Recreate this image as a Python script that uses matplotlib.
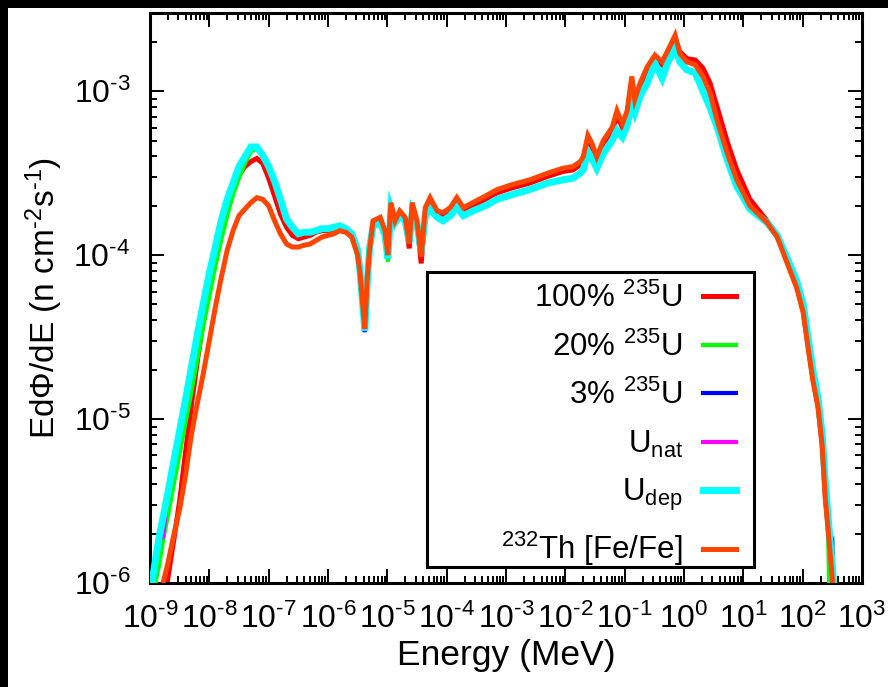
import matplotlib
matplotlib.use("Agg")
import matplotlib.pyplot as plt
from matplotlib.patches import Rectangle
from matplotlib.ticker import LogLocator, NullFormatter, FuncFormatter
import math

# ── Data ─────────────────────────────────────────────────────────────────────

energy_mev = [
    1.00e-9, 1.12e-9, 1.26e-9, 1.41e-9, 1.66e-9, 2.00e-9, 2.51e-9, 3.16e-9,
    3.98e-9, 5.01e-9, 6.31e-9, 7.94e-9, 1.00e-8, 1.26e-8, 1.58e-8, 2.00e-8,
    2.51e-8, 3.16e-8, 3.98e-8, 5.01e-8, 6.31e-8, 7.94e-8, 1.00e-7, 1.26e-7,
    1.58e-7, 2.00e-7, 2.51e-7, 3.16e-7, 3.98e-7, 5.01e-7, 6.31e-7, 7.94e-7,
    1.00e-6, 1.26e-6, 1.58e-6, 2.00e-6, 2.51e-6, 3.16e-6, 3.47e-6, 3.80e-6,
    4.17e-6, 4.57e-6, 5.01e-6, 5.75e-6, 7.59e-6, 9.12e-6, 1.02e-5, 1.15e-5,
    1.35e-5, 1.62e-5, 2.00e-5, 2.34e-5, 2.63e-5, 3.16e-5, 3.72e-5, 4.37e-5,
    5.25e-5, 6.92e-5, 8.71e-5, 1.15e-4, 1.48e-4, 1.91e-4, 2.75e-4, 4.47e-4,
    7.08e-4, 1.26e-3, 2.51e-3, 5.01e-3, 9.12e-3, 1.35e-2, 1.78e-2, 2.00e-2,
    2.40e-2, 2.82e-2, 3.39e-2, 4.37e-2, 6.17e-2, 7.41e-2, 9.12e-2, 0.110,
    0.132, 0.148, 0.182, 0.240, 0.324, 0.427, 0.537, 0.708,
    0.851, 1.12, 1.55, 2.09, 2.75, 3.63, 5.37, 7.76,
    12.9, 25.1, 37.2, 55.0, 79.4, 102, 123, 148,
    182, 214, 240, 269, 295, 316, 339, 363,
]

flux_u100 = [
    6.31e-8, 1.26e-7, 2.24e-7, 3.80e-7, 7.08e-7, 1.07e-6, 1.82e-6, 3.16e-6,
    6.31e-6, 1.23e-5, 2.29e-5, 3.98e-5, 6.46e-5, 1.00e-4, 1.41e-4, 1.91e-4,
    2.51e-4, 3.09e-4, 3.47e-4, 3.72e-4, 3.89e-4, 3.63e-4, 2.95e-4, 2.29e-4,
    1.78e-4, 1.48e-4, 1.32e-4, 1.26e-4, 1.29e-4, 1.32e-4, 1.38e-4, 1.41e-4,
    1.41e-4, 1.45e-4, 1.48e-4, 1.41e-4, 1.32e-4, 1.02e-4, 7.76e-5, 5.25e-5,
    3.55e-5, 6.92e-5, 1.07e-4, 1.58e-4, 1.66e-4, 1.38e-4, 9.77e-5, 2.00e-4,
    1.58e-4, 1.82e-4, 1.66e-4, 1.10e-4, 2.00e-4, 1.58e-4, 8.91e-5, 1.86e-4,
    2.09e-4, 1.78e-4, 1.74e-4, 1.86e-4, 2.09e-4, 1.86e-4, 2.00e-4, 2.19e-4,
    2.40e-4, 2.57e-4, 2.75e-4, 3.02e-4, 3.24e-4, 3.31e-4, 3.55e-4, 3.80e-4,
    5.01e-4, 4.57e-4, 3.80e-4, 4.79e-4, 5.75e-4, 7.08e-4, 6.03e-4, 7.24e-4,
    1.15e-3, 8.51e-4, 1.07e-3, 1.35e-3, 1.58e-3, 1.45e-3, 1.70e-3, 2.09e-3,
    1.74e-3, 1.58e-3, 1.55e-3, 1.38e-3, 1.12e-3, 7.94e-4, 4.90e-4, 3.31e-4,
    2.19e-4, 1.62e-4, 1.32e-4, 9.12e-5, 6.46e-5, 4.57e-5, 2.82e-5, 1.78e-5,
    1.20e-5, 6.92e-6, 3.47e-6, 2.19e-6, 1.45e-6, 1.07e-6, 5.01e-7, 2.51e-7,
]

flux_u20 = [
    2.51e-7, 6.31e-7, 1.05e-6, 1.26e-6, 1.82e-6, 2.57e-6, 3.98e-6, 6.17e-6,
    9.55e-6, 1.48e-5, 2.34e-5, 3.72e-5, 5.62e-5, 8.51e-5, 1.23e-4, 1.74e-4,
    2.34e-4, 2.95e-4, 3.63e-4, 4.27e-4, 4.47e-4, 4.07e-4, 3.47e-4, 2.82e-4,
    2.19e-4, 1.66e-4, 1.48e-4, 1.35e-4, 1.38e-4, 1.38e-4, 1.41e-4, 1.45e-4,
    1.45e-4, 1.48e-4, 1.51e-4, 1.45e-4, 1.35e-4, 1.07e-4, 7.94e-5, 5.25e-5,
    3.47e-5, 6.61e-5, 1.10e-4, 1.51e-4, 1.58e-4, 1.32e-4, 9.12e-5, 1.91e-4,
    1.58e-4, 1.74e-4, 1.62e-4, 1.20e-4, 1.82e-4, 1.55e-4, 1.05e-4, 1.74e-4,
    1.91e-4, 1.70e-4, 1.62e-4, 1.74e-4, 1.95e-4, 1.74e-4, 1.86e-4, 2.00e-4,
    2.19e-4, 2.34e-4, 2.51e-4, 2.75e-4, 2.88e-4, 2.95e-4, 3.16e-4, 3.31e-4,
    4.27e-4, 3.89e-4, 3.39e-4, 4.17e-4, 5.01e-4, 5.75e-4, 5.25e-4, 6.17e-4,
    8.32e-4, 7.41e-4, 9.33e-4, 1.12e-3, 1.48e-3, 1.20e-3, 1.51e-3, 1.82e-3,
    1.51e-3, 1.35e-3, 1.29e-3, 1.00e-3, 7.94e-4, 6.03e-4, 3.80e-4, 2.63e-4,
    1.91e-4, 1.58e-4, 1.32e-4, 9.55e-5, 6.92e-5, 5.01e-5, 3.16e-5, 2.00e-5,
    1.32e-5, 7.94e-6, 3.55e-6, 2.00e-6, 3.16e-7, 1.00e-7, 1.00e-7, 1.00e-7,
]

flux_u3 = [
    5.01e-7, 1.10e-6, 1.45e-6, 1.86e-6, 2.51e-6, 3.55e-6, 5.50e-6, 8.51e-6,
    1.32e-5, 2.09e-5, 3.31e-5, 5.13e-5, 7.76e-5, 1.12e-4, 1.62e-4, 2.19e-4,
    2.75e-4, 3.47e-4, 3.98e-4, 4.57e-4, 4.57e-4, 4.07e-4, 3.47e-4, 2.82e-4,
    2.19e-4, 1.66e-4, 1.48e-4, 1.35e-4, 1.38e-4, 1.38e-4, 1.41e-4, 1.45e-4,
    1.45e-4, 1.48e-4, 1.51e-4, 1.45e-4, 1.35e-4, 1.07e-4, 7.94e-5, 5.25e-5,
    3.39e-5, 6.61e-5, 1.10e-4, 1.51e-4, 1.58e-4, 1.32e-4, 9.55e-5, 1.91e-4,
    1.58e-4, 1.74e-4, 1.62e-4, 1.20e-4, 1.82e-4, 1.55e-4, 1.05e-4, 1.74e-4,
    1.91e-4, 1.70e-4, 1.62e-4, 1.74e-4, 1.95e-4, 1.74e-4, 1.86e-4, 2.00e-4,
    2.19e-4, 2.34e-4, 2.51e-4, 2.75e-4, 2.88e-4, 2.95e-4, 3.16e-4, 3.31e-4,
    4.27e-4, 3.89e-4, 3.39e-4, 4.17e-4, 5.01e-4, 5.75e-4, 5.25e-4, 6.17e-4,
    8.32e-4, 7.41e-4, 9.33e-4, 1.12e-3, 1.48e-3, 1.20e-3, 1.51e-3, 1.82e-3,
    1.51e-3, 1.35e-3, 1.29e-3, 1.00e-3, 7.94e-4, 6.03e-4, 3.80e-4, 2.63e-4,
    1.91e-4, 1.58e-4, 1.32e-4, 9.55e-5, 6.92e-5, 5.01e-5, 3.16e-5, 2.00e-5,
    1.32e-5, 7.94e-6, 4.17e-6, 2.51e-6, 1.66e-6, 1.74e-6, 5.01e-7, 3.16e-7,
]

flux_unat = [
    5.01e-7, 1.10e-6, 1.45e-6, 1.86e-6, 1.91e-6, 3.55e-6, 5.50e-6, 8.51e-6,
    1.32e-5, 2.09e-5, 3.31e-5, 5.13e-5, 7.76e-5, 1.12e-4, 1.62e-4, 2.19e-4,
    2.75e-4, 3.47e-4, 3.98e-4, 4.57e-4, 4.57e-4, 4.07e-4, 3.47e-4, 2.82e-4,
    2.19e-4, 1.66e-4, 1.48e-4, 1.35e-4, 1.38e-4, 1.38e-4, 1.41e-4, 1.45e-4,
    1.45e-4, 1.48e-4, 1.51e-4, 1.45e-4, 1.35e-4, 1.07e-4, 7.94e-5, 5.25e-5,
    3.47e-5, 6.61e-5, 1.10e-4, 1.51e-4, 1.58e-4, 1.32e-4, 9.55e-5, 1.91e-4,
    1.58e-4, 1.74e-4, 1.62e-4, 1.20e-4, 1.82e-4, 1.55e-4, 1.05e-4, 1.74e-4,
    1.91e-4, 1.70e-4, 1.62e-4, 1.74e-4, 1.95e-4, 1.74e-4, 1.86e-4, 2.00e-4,
    2.19e-4, 2.34e-4, 2.51e-4, 2.75e-4, 2.88e-4, 2.95e-4, 3.16e-4, 3.31e-4,
    4.27e-4, 3.89e-4, 3.39e-4, 4.17e-4, 5.01e-4, 5.75e-4, 5.25e-4, 6.17e-4,
    8.32e-4, 7.41e-4, 9.33e-4, 1.12e-3, 1.48e-3, 1.20e-3, 1.51e-3, 1.82e-3,
    1.51e-3, 1.35e-3, 1.29e-3, 1.00e-3, 7.94e-4, 6.03e-4, 3.80e-4, 2.63e-4,
    1.91e-4, 1.58e-4, 1.32e-4, 9.55e-5, 6.92e-5, 5.01e-5, 3.16e-5, 2.00e-5,
    1.32e-5, 7.94e-6, 4.17e-6, 2.51e-6, 1.66e-6, 1.26e-6, 8.91e-7, 3.16e-7,
]

flux_udep = [
    5.01e-7, 1.10e-6, 1.45e-6, 1.86e-6, 2.51e-6, 3.55e-6, 5.50e-6, 8.51e-6,
    1.32e-5, 2.09e-5, 3.31e-5, 5.13e-5, 7.76e-5, 1.12e-4, 1.62e-4, 2.19e-4,
    2.75e-4, 3.47e-4, 3.98e-4, 4.57e-4, 4.57e-4, 4.07e-4, 3.47e-4, 2.82e-4,
    2.19e-4, 1.66e-4, 1.48e-4, 1.35e-4, 1.38e-4, 1.38e-4, 1.41e-4, 1.45e-4,
    1.45e-4, 1.48e-4, 1.51e-4, 1.45e-4, 1.35e-4, 1.07e-4, 7.94e-5, 5.25e-5,
    3.47e-5, 6.61e-5, 1.10e-4, 1.51e-4, 1.58e-4, 1.32e-4, 9.55e-5, 1.91e-4,
    1.58e-4, 1.74e-4, 1.62e-4, 1.20e-4, 1.82e-4, 1.55e-4, 1.05e-4, 1.74e-4,
    1.91e-4, 1.70e-4, 1.62e-4, 1.74e-4, 1.95e-4, 1.74e-4, 1.86e-4, 2.00e-4,
    2.19e-4, 2.34e-4, 2.51e-4, 2.75e-4, 2.88e-4, 2.95e-4, 3.16e-4, 3.31e-4,
    4.27e-4, 3.89e-4, 3.39e-4, 4.17e-4, 5.01e-4, 5.75e-4, 5.25e-4, 6.17e-4,
    8.32e-4, 7.41e-4, 9.33e-4, 1.12e-3, 1.48e-3, 1.20e-3, 1.51e-3, 1.82e-3,
    1.51e-3, 1.35e-3, 1.29e-3, 1.00e-3, 7.94e-4, 6.03e-4, 3.80e-4, 2.63e-4,
    1.91e-4, 1.58e-4, 1.32e-4, 9.55e-5, 6.92e-5, 5.01e-5, 3.16e-5, 2.00e-5,
    1.32e-5, 7.94e-6, 4.17e-6, 2.51e-6, 1.66e-6, 1.26e-6, 8.91e-7, 3.16e-7,
]

flux_th232 = [
    1.00e-7, 1.70e-7, 2.82e-7, 4.79e-7, 1.00e-6, 1.32e-6, 1.95e-6, 2.82e-6,
    4.57e-6, 8.13e-6, 1.26e-5, 1.91e-5, 3.02e-5, 4.79e-5, 7.24e-5, 1.07e-4,
    1.41e-4, 1.74e-4, 1.91e-4, 2.09e-4, 2.24e-4, 2.19e-4, 2.00e-4, 1.62e-4,
    1.35e-4, 1.17e-4, 1.12e-4, 1.12e-4, 1.15e-4, 1.17e-4, 1.23e-4, 1.29e-4,
    1.32e-4, 1.35e-4, 1.41e-4, 1.38e-4, 1.29e-4, 1.00e-4, 7.76e-5, 5.25e-5,
    3.55e-5, 7.08e-5, 1.07e-4, 1.62e-4, 1.70e-4, 1.41e-4, 1.00e-4, 2.09e-4,
    1.62e-4, 1.86e-4, 1.70e-4, 1.17e-4, 2.09e-4, 1.62e-4, 9.77e-5, 1.95e-4,
    2.24e-4, 1.86e-4, 1.82e-4, 1.95e-4, 2.24e-4, 1.95e-4, 2.09e-4, 2.29e-4,
    2.51e-4, 2.69e-4, 2.88e-4, 3.16e-4, 3.39e-4, 3.47e-4, 3.72e-4, 3.98e-4,
    5.37e-4, 4.79e-4, 3.98e-4, 5.01e-4, 6.03e-4, 7.59e-4, 6.31e-4, 7.59e-4,
    1.23e-3, 8.91e-4, 1.12e-3, 1.41e-3, 1.66e-3, 1.51e-3, 1.78e-3, 2.19e-3,
    1.70e-3, 1.51e-3, 1.45e-3, 1.23e-3, 9.77e-4, 6.61e-4, 4.17e-4, 2.88e-4,
    2.00e-4, 1.58e-4, 1.29e-4, 8.91e-5, 6.31e-5, 4.47e-5, 2.75e-5, 1.74e-5,
    1.17e-5, 6.76e-6, 3.31e-6, 2.09e-6, 1.41e-6, 1.05e-6, 5.01e-7, 2.51e-7,
]

labels = [
    r"100% $^{235}$U",
    r"20% $^{235}$U",
    r"3% $^{235}$U",
    r"U$_{\rm nat}$",
    r"U$_{\rm dep}$",
    r"$^{232}$Th [Fe/Fe]",
]

# ── Style ────────────────────────────────────────────────────────────────────

plt.rcParams["font.family"] = ["Liberation Sans", "DejaVu Sans"]
plt.rcParams["mathtext.fontset"] = "custom"
plt.rcParams["mathtext.rm"] = "Liberation Sans"
plt.rcParams["mathtext.it"] = "Liberation Sans:italic"
plt.rcParams["mathtext.bf"] = "Liberation Sans:bold"
plt.rcParams["mathtext.default"] = "regular"


def pow10_label(v, _pos):
    # gnuplot-style "10^-9" with a short hyphen instead of a wide minus sign
    e = int(round(math.log10(v)))
    if e < 0:
        return rf"$10^{{\text{{-}}{-e}}}$"
    return rf"$10^{{{e}}}$"


FS_TICK = 23
FS_LEG = 22.5
series = [flux_u100, flux_u20, flux_u3, flux_unat, flux_udep, flux_th232]
colors = ["#ff0000", "#00ff00", "#0000ff", "#ff00ff", "#00ffff", "#ff4500"]
widths = [3.6, 3.0, 3.0, 3.0, 5.0, 3.6]

fig = plt.figure(figsize=(8.88, 6.87), dpi=100)
ax = fig.add_axes([150 / 888, 1 - 583 / 687, 712 / 888, 570 / 687])

for i, (flux, c, lw, lab) in enumerate(zip(series, colors, widths, labels)):
    ax.plot(energy_mev, flux, color=c, lw=lw, label=lab, zorder=2 + i,
            solid_joinstyle="miter")

ax.set_xscale("log")
ax.set_yscale("log")
ax.set_xlim(1e-9, 1e3)
ax.set_ylim(1e-6, 3e-3)

ax.xaxis.set_major_locator(LogLocator(base=10, numticks=20))
ax.xaxis.set_minor_locator(LogLocator(base=10, subs=range(2, 10), numticks=20))
ax.yaxis.set_minor_locator(LogLocator(base=10, subs=range(2, 10), numticks=20))
ax.xaxis.set_major_formatter(FuncFormatter(pow10_label))
ax.yaxis.set_major_formatter(FuncFormatter(pow10_label))
ax.xaxis.set_minor_formatter(NullFormatter())
ax.yaxis.set_minor_formatter(NullFormatter())

ax.tick_params(which="both", direction="in", top=True, right=True,
               width=1.4, labelsize=FS_TICK)
ax.tick_params(which="major", length=10)
ax.tick_params(which="minor", length=5)
ax.tick_params(axis="x", which="major", pad=15)
ax.tick_params(axis="y", which="major", pad=14)
for sp in ax.spines.values():
    sp.set_linewidth(2.2)

ax.set_xlabel("Energy (MeV)", fontsize=25.5, labelpad=3)
ax.set_ylabel(r"EdΦ/dE (n cm$^{\text{-}2}$s$^{\text{-}1}$)", fontsize=24, labelpad=6)

# legend: gnuplot-style key, labels right-aligned, samples on the right
leg = ax.legend(loc="upper right", bbox_to_anchor=((736 - 150) / 712, 1 - 270 / 570),
                frameon=False, markerfirst=False, fontsize=FS_LEG,
                handlelength=1.05, handletextpad=0.65, labelspacing=0.55,
                borderaxespad=0, borderpad=0)
leg.set_zorder(20)
ax.add_patch(Rectangle(((427 - 150) / 712, (583 - 567) / 570), 327 / 712, 295 / 570,
                       transform=ax.transAxes, fill=False, lw=2.2,
                       edgecolor="black", zorder=19))

# black frame strips at the top and left of the image
fig.add_artist(Rectangle((0, 1 - 8 / 687), 1, 8 / 687, transform=fig.transFigure,
                         color="black", lw=0))
fig.add_artist(Rectangle((0, 0), 8 / 888, 1, transform=fig.transFigure,
                         color="black", lw=0))

fig.savefig("out.png", dpi=100)
